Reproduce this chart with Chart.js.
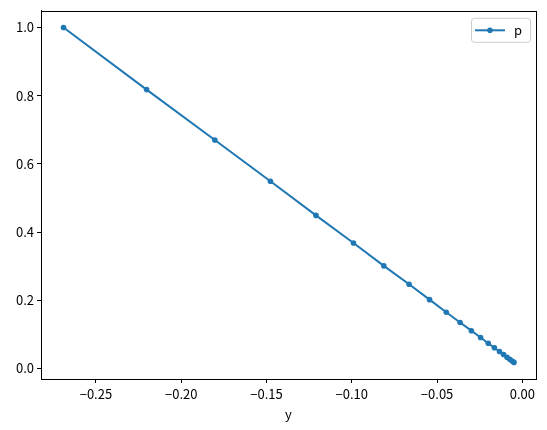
<!DOCTYPE html>
<html>
<head>
<meta charset="utf-8">
<script src="https://cdn.jsdelivr.net/npm/chart.js@4/dist/chart.umd.min.js"></script>
<style>
  html, body { margin: 0; padding: 0; background: #fff; }
  #wrap { width: 547px; height: 430px; }
</style>
</head>
<body>
<div id="wrap"><canvas id="myChart"></canvas></div>
<script>
// 데이터
const seriesName = 'p';
const xTitle = 'y';
const yValues = [-0.2690, -0.2203, -0.1803, -0.1477, -0.1210, -0.0990, -0.0812, -0.0664, -0.0544, -0.0446,
                 -0.0365, -0.0299, -0.0245, -0.0200, -0.0164, -0.0134, -0.0110, -0.0090, -0.0074, -0.0060, -0.0049];
const pValues = [1.000, 0.818, 0.670, 0.549, 0.449, 0.368, 0.301, 0.247, 0.202, 0.165,
                 0.135, 0.111, 0.091, 0.074, 0.061, 0.050, 0.041, 0.033, 0.027, 0.022, 0.018];
const xTicks = [-0.25, -0.20, -0.15, -0.10, -0.05, 0.00];
const yTicks = [0.0, 0.2, 0.4, 0.6, 0.8, 1.0];
const xRange = [-0.2822, 0.0080];
const yRange = [-0.0307, 1.049];

const lineColor = '#1f77b4';
const fontFamily = "'Noto Sans CJK JP', 'DejaVu Sans', sans-serif";

// 축 테두리 + 범례
const framePlugin = {
    id: 'framePlugin',
    afterDraw(chart) {
        const { ctx, chartArea } = chart;
        ctx.save();
        ctx.strokeStyle = '#000';
        ctx.lineWidth = 1;
        ctx.strokeRect(Math.round(chartArea.left) + 0.5, Math.round(chartArea.top) + 0.5,
            Math.round(chartArea.right - chartArea.left), Math.round(chartArea.bottom - chartArea.top));

        // 범례 박스
        const bx = chartArea.right - 65, by = chartArea.top + 7, bw = 59, bh = 24;
        ctx.beginPath();
        ctx.roundRect(bx + 0.5, by + 0.5, bw, bh, 3);
        ctx.fillStyle = 'rgba(255,255,255,0.8)';
        ctx.fill();
        ctx.strokeStyle = '#cccccc';
        ctx.stroke();

        const ly = by + bh / 2 + 0.5;
        ctx.beginPath();
        ctx.moveTo(bx + 4, ly);
        ctx.lineTo(bx + 34, ly);
        ctx.strokeStyle = lineColor;
        ctx.lineWidth = 2;
        ctx.stroke();
        ctx.beginPath();
        ctx.arc(bx + 19, ly, 2.8, 0, Math.PI * 2);
        ctx.fillStyle = lineColor;
        ctx.fill();

        ctx.fillStyle = '#000';
        ctx.font = '13px ' + fontFamily;
        ctx.textAlign = 'left';
        ctx.textBaseline = 'middle';
        ctx.fillText(seriesName, bx + 43, ly);
        ctx.restore();
    }
};

const fmt = (v, digits) => {
    const s = Math.abs(v).toFixed(digits);
    return (v < -1e-9 ? '\u2212' : '') + s;
};

const ctx = document.getElementById('myChart').getContext('2d');
const myChart = new Chart(ctx, {
    type: 'line',
    data: {
        datasets: [{
            label: seriesName,
            data: yValues.map((v, i) => ({ x: v, y: pValues[i] })),
            borderColor: lineColor,
            backgroundColor: lineColor,
            borderWidth: 2,
            pointRadius: 2.8,
            pointBorderWidth: 0,
            pointHoverRadius: 2.8,
            tension: 0,
            fill: false
        }]
    },
    options: {
        responsive: true,
        maintainAspectRatio: false,
        animation: false,
        layout: {
            padding: { top: 10, right: 11, left: 0, bottom: 0 }
        },
        plugins: {
            legend: { display: false },
            tooltip: { enabled: false }
        },
        scales: {
            x: {
                type: 'linear',
                min: xRange[0],
                max: xRange[1],
                afterBuildTicks: (scale) => { scale.ticks = xTicks.map(v => ({ value: v })); },
                afterFit: (scale) => { scale.height = 51; },
                grid: {
                    drawOnChartArea: false,
                    drawTicks: true,
                    tickLength: 4,
                    color: '#000'
                },
                border: { display: true, color: '#000' },
                ticks: {
                    autoSkip: false,
                    maxRotation: 0,
                    padding: 3,
                    color: '#000',
                    font: { family: fontFamily, size: 13 },
                    callback: (v) => fmt(v, 2)
                },
                title: {
                    display: true,
                    text: xTitle,
                    color: '#000',
                    font: { family: fontFamily, size: 13 },
                    padding: { top: 0, bottom: 8 }
                }
            },
            y: {
                type: 'linear',
                min: yRange[0],
                max: yRange[1],
                afterBuildTicks: (scale) => { scale.ticks = yTicks.map(v => ({ value: v })); },
                afterFit: (scale) => { scale.width = 41; },
                grid: {
                    drawOnChartArea: false,
                    drawTicks: true,
                    tickLength: 4,
                    color: '#000'
                },
                border: { display: true, color: '#000' },
                ticks: {
                    autoSkip: false,
                    padding: 3,
                    color: '#000',
                    font: { family: fontFamily, size: 13 },
                    callback: (v) => fmt(v, 1)
                }
            }
        }
    },
    plugins: [framePlugin]
});
</script>
</body>
</html>
